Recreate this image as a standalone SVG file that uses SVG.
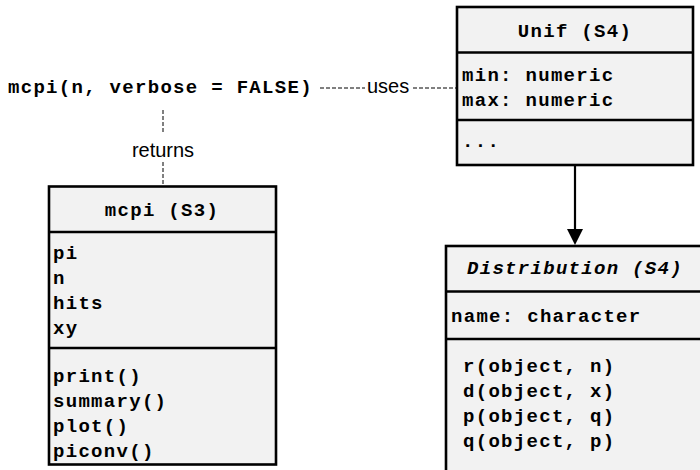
<svg xmlns="http://www.w3.org/2000/svg" width="700" height="470" viewBox="0 0 700 470">
<style>
.box{fill:#f2f2f2;stroke:#000;stroke-width:2.6}
.sep{stroke:#000;stroke-width:2.6}
.mono{font-family:"Liberation Mono","Courier New",monospace;font-weight:bold;font-size:19px;letter-spacing:1.3px;fill:#000}
.sans{font-family:"Liberation Sans",Arial,sans-serif;font-size:20px;fill:#000}
.dash{stroke:#000;stroke-width:1;stroke-dasharray:4 2;fill:none}
</style>
<defs>
<marker id="tri" markerWidth="16" markerHeight="16" refX="8" refY="16" orient="auto" markerUnits="userSpaceOnUse" viewBox="0 0 16 16">
<path d="M0,0 L16,0 L8,16 Z" fill="#000"/>
</marker>
</defs>
<g id="connectors">
<line class="dash" x1="320" y1="88" x2="365" y2="88"/>
<line class="dash" x1="413" y1="88" x2="457" y2="88"/>
<text class="sans" x="367" y="93">uses</text>
<line class="dash" x1="163" y1="110" x2="163" y2="134"/>
<line class="dash" x1="163" y1="162" x2="163" y2="187"/>
<text class="sans" x="163" y="157" text-anchor="middle">returns</text>
<line x1="575" y1="166" x2="575" y2="232" stroke="#000" stroke-width="2.2"/>
<polygon points="567,229 583,229 575,245" fill="#000"/>
</g>
<g id="mcpi-call">
<text class="mono" x="8" y="93">mcpi(n, verbose = FALSE)</text>
</g>
<g id="unif">
<rect class="box" x="457" y="7" width="236" height="158"/>
<line class="sep" x1="457" y1="52.5" x2="693" y2="52.5"/>
<line class="sep" x1="457" y1="120" x2="693" y2="120"/>
<text class="mono" x="575" y="37" text-anchor="middle">Unif (S4)</text>
<text class="mono" x="462" y="81">min: numeric</text>
<text class="mono" x="462" y="106">max: numeric</text>
<text class="mono" x="462" y="147">...</text>
</g>
<g id="mcpi-s3">
<rect class="box" x="49" y="186.5" width="227" height="278"/>
<line class="sep" x1="49" y1="232" x2="276" y2="232"/>
<line class="sep" x1="49" y1="348" x2="276" y2="348"/>
<text class="mono" x="162" y="216" text-anchor="middle">mcpi (S3)</text>
<text class="mono" x="53" y="259">pi</text>
<text class="mono" x="53" y="284">n</text>
<text class="mono" x="53" y="309">hits</text>
<text class="mono" x="53" y="334">xy</text>
<text class="mono" x="53" y="382">print()</text>
<text class="mono" x="53" y="407">summary()</text>
<text class="mono" x="53" y="432">plot()</text>
<text class="mono" x="53" y="457">piconv()</text>
</g>
<g id="distribution">
<rect class="box" x="446" y="246" width="270" height="240"/>
<line class="sep" x1="446" y1="291.5" x2="716" y2="291.5"/>
<line class="sep" x1="446" y1="339" x2="716" y2="339"/>
<text class="mono" x="467" y="274" font-style="italic">Distribution (S4)</text>
<text class="mono" x="451" y="322">name: character</text>
<text class="mono" x="463" y="372">r(object, n)</text>
<text class="mono" x="463" y="397">d(object, x)</text>
<text class="mono" x="463" y="422">p(object, q)</text>
<text class="mono" x="463" y="447">q(object, p)</text>
</g>
</svg>
